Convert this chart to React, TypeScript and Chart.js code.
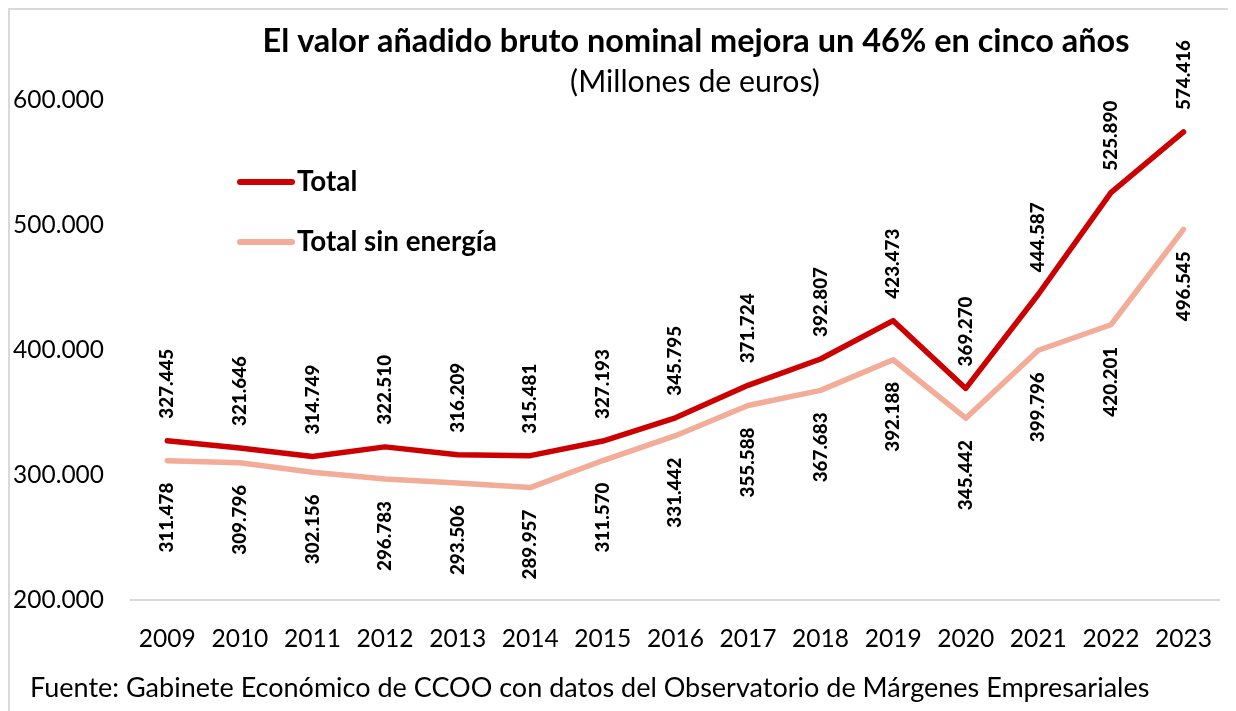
import React, { useEffect, useRef } from 'react';
import { Chart, registerables } from 'chart.js';

Chart.register(...registerables);

const years = ['2009', '2010', '2011', '2012', '2013', '2014', '2015', '2016', '2017', '2018', '2019', '2020', '2021', '2022', '2023'];
const totalValues = [327445, 321646, 314749, 322510, 316209, 315481, 327193, 345795, 371724, 392807, 423473, 369270, 444587, 525890, 574416];
const sinEnergiaValues = [311478, 309796, 302156, 296783, 293506, 289957, 311570, 331442, 355588, 367683, 392188, 345442, 399796, 420201, 496545];
const seriesNames = ['Total', 'Total sin energía'];
const yMin = 200000;
const yMax = 600000;
const yStep = 100000;
const titleText = 'El valor añadido bruto nominal mejora un 46% en cinco años';
const subtitleText = '(Millones de euros)';
const sourceText = 'Fuente: Gabinete Económico de CCOO con datos del Observatorio de Márgenes Empresariales';

const FAMILY = 'Lato, "Open Sans", sans-serif';
const RED = '#CC0000';
const PINK = '#F3AC98';

function fit(text: string, weight: string, target: number): number {
  const c = document.createElement('canvas').getContext('2d')!;
  c.font = `${weight} 100px ${FAMILY}`;
  return (100 * target) / c.measureText(text).width;
}

function fmt(v: number): string {
  return Math.round(v).toString().replace(/\B(?=(\d{3})+(?!\d))/g, '.');
}

export default function App() {
  const ref = useRef<HTMLCanvasElement>(null);

  useEffect(() => {
    document.documentElement.style.overflow = 'hidden';
    document.body.style.overflow = 'hidden';
    const canvas = ref.current!;
    const titleSize = fit(titleText, 'bold', 867);
    const subSize = fit(subtitleText, 'normal', 250);
    const srcSize = fit(sourceText, 'normal', 1120);
    const ySize = fit('600.000', 'normal', 91);
    const xSize = fit('2009', 'normal', 57);
    const labelSize = fit('327.445', '900', 70);
    const legendSize = fit(seriesNames[1], 'bold', 200);

    const overlay = {
      id: 'overlay',
      afterDatasetsDraw(chart: any) {
        const ctx: CanvasRenderingContext2D = chart.ctx;
        ctx.save();
        chart.data.datasets.forEach((ds: any, i: number) => {
          const meta = chart.getDatasetMeta(i);
          meta.data.forEach((pt: any, j: number) => {
            ctx.save();
            ctx.translate(pt.x, i === 0 ? pt.y - 22 : pt.y + 22);
            ctx.rotate(-Math.PI / 2);
            ctx.font = `900 ${labelSize}px ${FAMILY}`;
            ctx.fillStyle = '#000';
            ctx.textAlign = i === 0 ? 'left' : 'right';
            ctx.textBaseline = 'middle';
            ctx.fillText(fmt(ds.data[j]), 0, 0);
            ctx.restore();
          });
        });
        // legend
        const legendY = [172, 232];
        seriesNames.forEach((name, i) => {
          ctx.beginPath();
          ctx.strokeStyle = i === 0 ? RED : PINK;
          ctx.lineWidth = 6;
          ctx.lineCap = 'round';
          ctx.moveTo(230, legendY[i]);
          ctx.lineTo(282, legendY[i]);
          ctx.stroke();
          ctx.font = `bold ${legendSize}px ${FAMILY}`;
          ctx.fillStyle = '#000';
          ctx.textAlign = 'left';
          ctx.textBaseline = 'middle';
          ctx.fillText(name, 287, legendY[i]);
        });
        // title
        ctx.textAlign = 'center';
        ctx.textBaseline = 'alphabetic';
        ctx.font = `bold ${titleSize}px ${FAMILY}`;
        ctx.fillText(titleText, 686, 42);
        ctx.font = `normal ${subSize}px ${FAMILY}`;
        ctx.fillText(subtitleText, 685, 82);
        ctx.textAlign = 'left';
        ctx.font = `normal ${srcSize}px ${FAMILY}`;
        ctx.fillText(sourceText, 20, 687);
        ctx.restore();
      },
    };

    const chart = new Chart(canvas, {
      type: 'line',
      data: {
        labels: years,
        datasets: [
          {
            label: seriesNames[0],
            data: totalValues,
            borderColor: RED,
            backgroundColor: RED,
            borderWidth: 5.5,
            pointRadius: 0,
            tension: 0,
            borderJoinStyle: 'round',
            borderCapStyle: 'round',
            clip: false as any,
          },
          {
            label: seriesNames[1],
            data: sinEnergiaValues,
            borderColor: PINK,
            backgroundColor: PINK,
            borderWidth: 5.5,
            pointRadius: 0,
            tension: 0,
            borderJoinStyle: 'round',
            borderCapStyle: 'round',
            clip: false as any,
          },
        ],
      },
      options: {
        animation: false,
        responsive: false,
        maintainAspectRatio: false,
        layout: { padding: { top: 90, left: 0, right: 0, bottom: 0 } },
        plugins: {
          legend: { display: false },
          title: { display: false },
          tooltip: { enabled: false },
        },
        scales: {
          x: {
            offset: true,
            grid: { display: false, drawTicks: false },
            border: { display: true, color: '#d9d9d9', width: 2 },
            ticks: {
              font: { family: FAMILY, size: xSize },
              color: '#000',
              padding: 24,
              maxRotation: 0,
              autoSkip: false,
            },
            afterFit: (s: any) => {
              s.height = 111;
            },
          },
          y: {
            min: yMin,
            max: yMax,
            grid: { display: false, drawTicks: false },
            border: { display: false },
            ticks: {
              stepSize: yStep,
              callback: (v: any) => fmt(Number(v)),
              font: { family: FAMILY, size: ySize },
              color: '#000',
              padding: 27,
            },
            afterFit: (s: any) => {
              s.width = 121;
            },
          },
        },
      },
      plugins: [overlay],
    });
    return () => chart.destroy();
  }, []);

  return (
    <div
      style={{
        width: 1226,
        height: 701,
        borderTop: '2px solid #d9d9d9',
        borderLeft: '2px solid #d9d9d9',
        background: '#fff',
      }}
    >
      <canvas ref={ref} width={1226} height={701} style={{ display: 'block', width: 1226, height: 701 }} />
    </div>
  );
}
